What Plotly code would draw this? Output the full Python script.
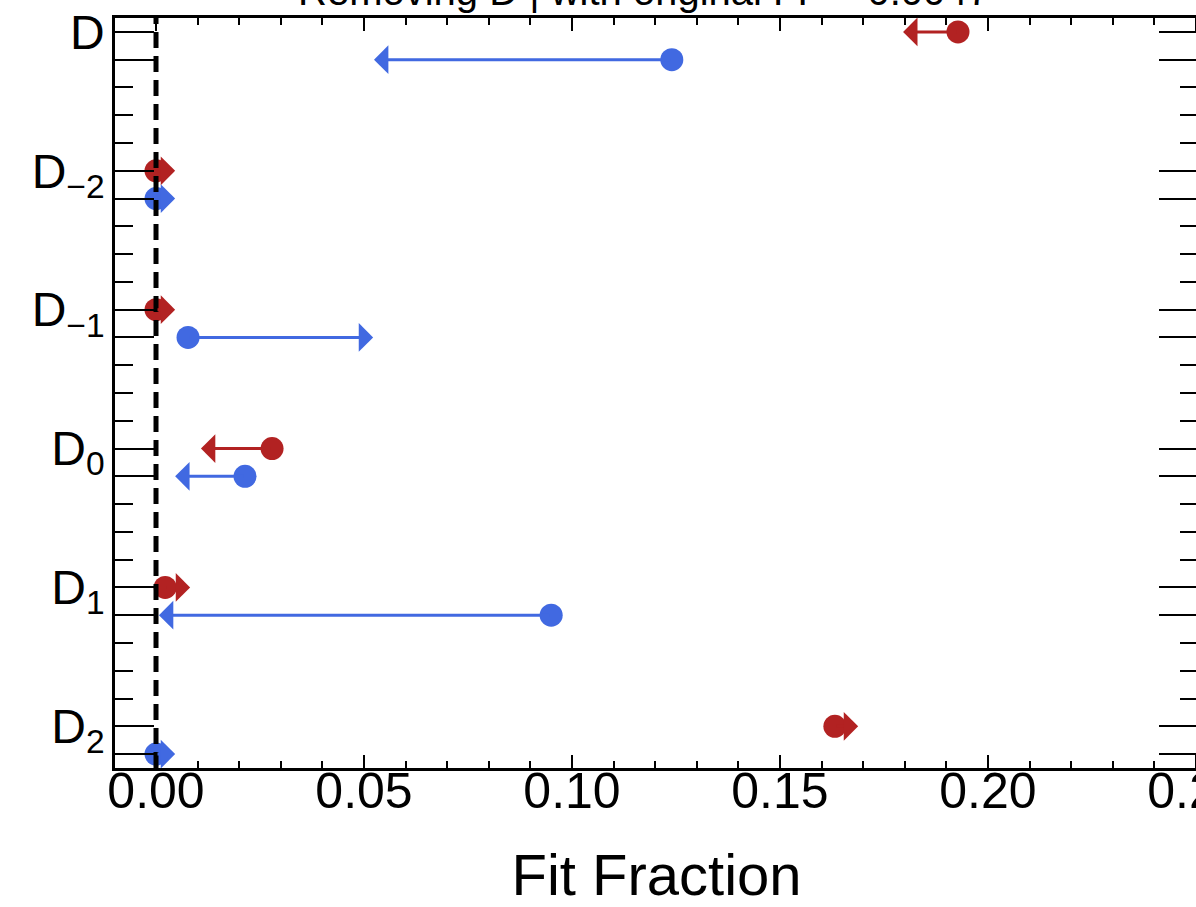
import plotly.graph_objects as go

# ---- data ----
categories = ["D", "D<sub>−2</sub>", "D<sub>−1</sub>", "D<sub>0</sub>", "D<sub>1</sub>", "D<sub>2</sub>"]
red_start = [0.1928, 0.0, 0.0, 0.0279, 0.0022, 0.1632]
red_end = [0.1796, 0.0046, 0.0046, 0.0108, 0.0082, 0.1688]
blue_start = [0.1240, 0.0, 0.0077, 0.0214, 0.0950, 0.0]
blue_end = [0.0524, 0.0046, 0.0522, 0.0046, 0.0007, 0.0046]
x_ticks = [0.00, 0.05, 0.10, 0.15, 0.20, 0.25]
title_text = "Removing D | with original FF = 0.0047"

RED = "#B22222"
BLUE = "#4169E1"
FONT = "Liberation Sans, Arial, Helvetica, sans-serif"

step = 5
red_y = [i * step for i in range(len(categories))]
blue_y = [i * step + 1 for i in range(len(categories))]

fig = go.Figure()

# arrows (drawn via annotations in data coordinates)
for xs, xe, yy, col in [(red_start, red_end, red_y, RED), (blue_start, blue_end, blue_y, BLUE)]:
    for a, b, y in zip(xs, xe, yy):
        fig.add_annotation(x=b, y=y, ax=a, ay=y, xref="x", yref="y", axref="x", ayref="y",
                           text="", showarrow=True, arrowhead=1, arrowsize=1.6,
                           arrowwidth=3, arrowcolor=col, standoff=0, startstandoff=0)

fig.add_trace(go.Scatter(x=red_start, y=red_y, mode="markers",
                         marker=dict(color=RED, size=23, line=dict(width=0)), showlegend=False))
fig.add_trace(go.Scatter(x=blue_start, y=blue_y, mode="markers",
                         marker=dict(color=BLUE, size=23, line=dict(width=0)), showlegend=False))

# dashed line at zero
fig.add_shape(type="line", x0=0, x1=0, xref="x", y0=0, y1=1, yref="paper",
              line=dict(color="black", width=5, dash="16px,8px"), layer="above")

major_y = sorted(red_y + blue_y)
major_text = []
for v in major_y:
    if v % step == 0:
        major_text.append(categories[v // step])
    else:
        major_text.append("")
minor_y = [v for v in range(0, 27) if v not in major_y]

fig.update_layout(
    width=1198, height=907,
    margin=dict(l=115, r=0, t=18, b=139),
    plot_bgcolor="white", paper_bgcolor="white",
    font=dict(family=FONT, color="black", size=48),
    xaxis=dict(
        range=[-0.00986, 0.2505], automargin=False,
        tickvals=x_ticks, ticktext=["%.2f" % v for v in x_ticks],
        ticks="inside", ticklen=13, tickwidth=2, tickcolor="black",
        showline=True, linecolor="black", linewidth=2.5, mirror="allticks",
        showgrid=False, zeroline=False,
        tickfont=dict(size=50, family=FONT), ticklabelstandoff=-23,
        ticklabeloverflow="allow",
        minor=dict(dtick=0.01, tick0=0, ticks="inside", ticklen=7, tickwidth=1.5,
                   tickcolor="black", showgrid=False),
        title=dict(text="Fit Fraction", font=dict(size=58, family=FONT), standoff=43),
    ),
    yaxis=dict(
        range=[26.5, -0.5], automargin=False,
        tickmode="array", tickvals=major_y, ticktext=major_text,
        ticks="inside", ticklen=39, tickwidth=2, tickcolor="black",
        showline=True, linecolor="black", linewidth=2.5, mirror="allticks",
        showgrid=False, zeroline=False,
        tickfont=dict(size=48, family=FONT), ticklabelstandoff=-2,
        ticklabeloverflow="allow",
        minor=dict(tickmode="array", tickvals=minor_y, ticks="inside", ticklen=18,
                   tickwidth=1.5, tickcolor="black", showgrid=False),
    ),
)

fig.add_annotation(text=title_text, xref="paper", yref="paper", x=0.488, y=1,
                   xanchor="center", yanchor="bottom", yshift=3, showarrow=False,
                   font=dict(size=40, family=FONT, color="black"))

fig.write_html("out.html", config={"displayModeBar": False},
               post_script="document.body.style.margin='0';document.body.style.overflow='hidden';")
